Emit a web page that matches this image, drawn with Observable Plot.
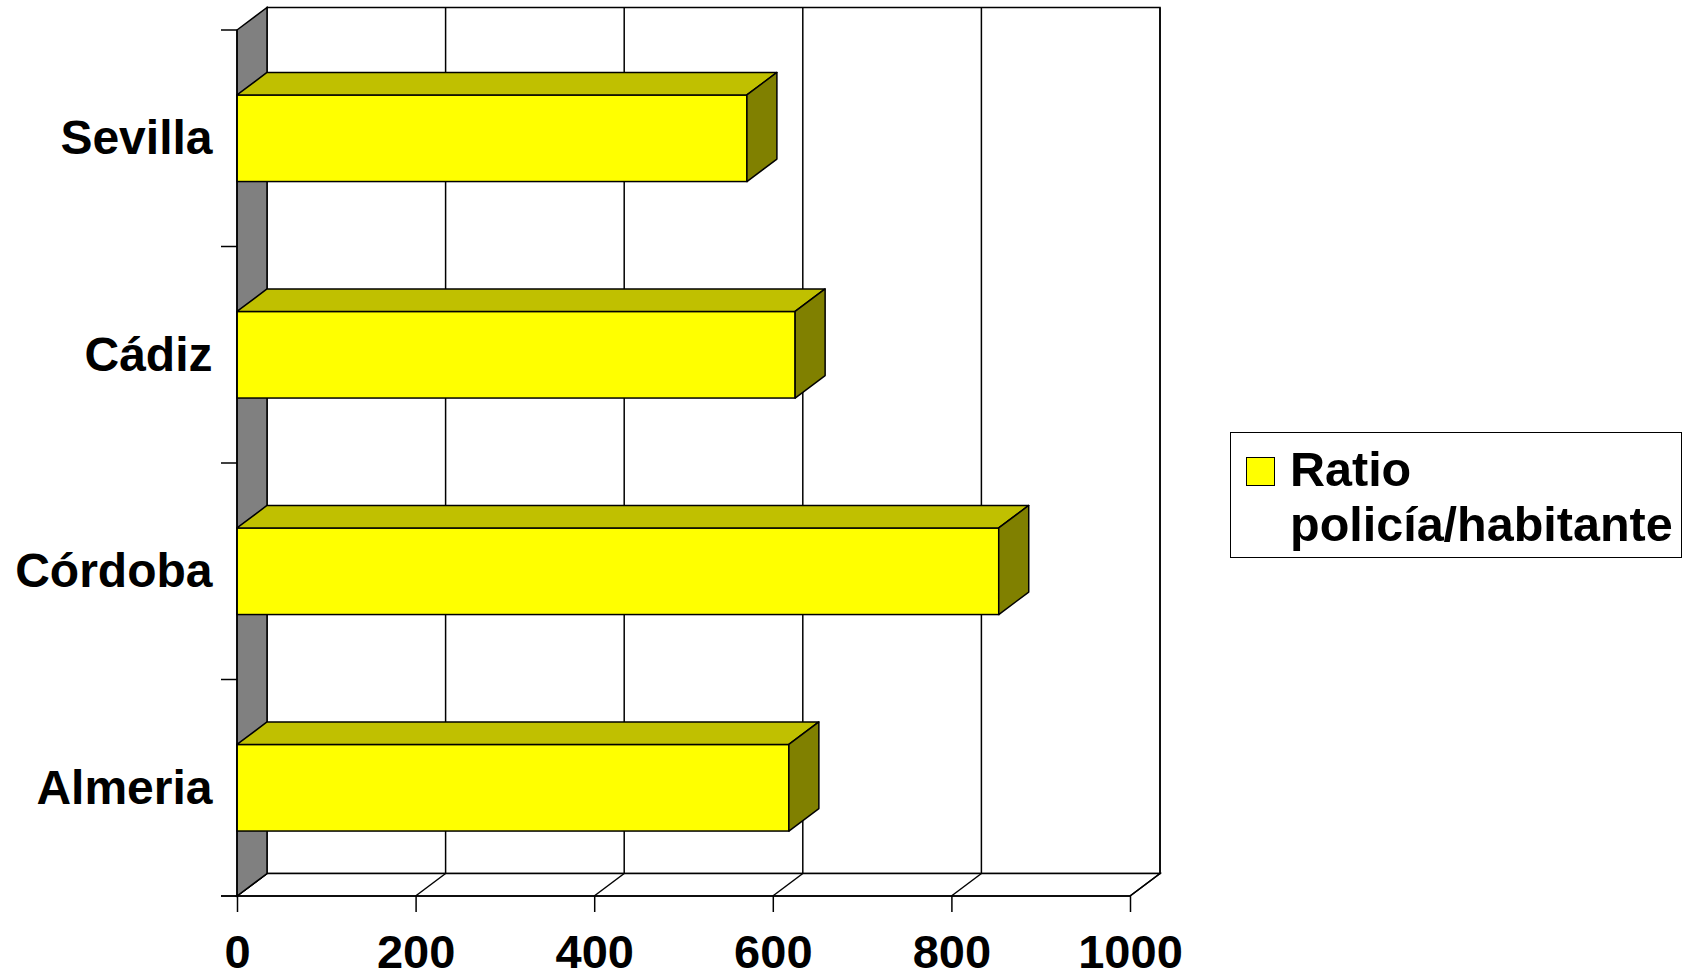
<!DOCTYPE html>
<html>
<head>
<meta charset="utf-8">
<script src="https://cdn.jsdelivr.net/npm/d3@7"></script>
<script src="https://cdn.jsdelivr.net/npm/@observablehq/plot@0.6"></script>
<style>
  html, body { margin: 0; padding: 0; background: #fff; }
  #wrap { position: relative; width: 1684px; height: 978px; font-family: "Liberation Sans", Arial, sans-serif; font-weight: bold; color: #000; }
  #wrap svg { position: absolute; left: 0; top: 0; overflow: visible; }
  .legend-box { position: absolute; left: 1230px; top: 432px; width: 452px; height: 126px; box-sizing: border-box; border: 1.5px solid #000; background: #fff; }
  .legend-swatch { position: absolute; left: 1246px; top: 457px; width: 29px; height: 29px; box-sizing: border-box; border: 1.5px solid #000; background: #ffff00; }
  .legend-text { position: absolute; left: 1290px; top: 442px; font-size: 48.5px; line-height: 55px; white-space: nowrap; }
</style>
</head>
<body>
<div id="wrap"></div>
<script>
// ---- data ----
const categories = ["Sevilla", "Cádiz", "Córdoba", "Almeria"];
const values = [571, 625, 853, 618];
const xTicks = [0, 200, 400, 600, 800, 1000];
const legendLines = ["Ratio", "policía/habitante"];

const data = categories.map((c, i) => ({provincia: c, ratio: values[i]}));

const DX = 30, DY = 22.5;
const COL = {front: "#ffff00", top: "#c0c000", side: "#808000", wall: "#808080"};
const SW = 1.5;

function frameY(dims) {
  return [dims.marginTop, dims.height - dims.marginBottom];
}

// back wall, floor and left wall (3D box)
function walls(index, scales, vals, dims) {
  const x = scales.x;
  const [yT, yB] = frameY(dims);
  const x0 = x(xTicks[0]), x1 = x(xTicks[xTicks.length - 1]);
  const g = d3.create("svg:g").attr("stroke", "black").attr("stroke-width", SW).attr("fill", "none");
  g.append("rect").attr("x", x0 + DX).attr("y", yT - DY).attr("width", x1 - x0).attr("height", yB - yT).attr("fill", "white");
  for (const t of xTicks.slice(1)) {
    g.append("line").attr("x1", x(t) + DX).attr("x2", x(t) + DX).attr("y1", yT - DY).attr("y2", yB - DY);
  }
  g.append("path").attr("fill", "white")
    .attr("d", `M${x0},${yB}L${x1},${yB}L${x1 + DX},${yB - DY}L${x0 + DX},${yB - DY}Z`);
  for (const t of xTicks) {
    g.append("line").attr("x1", x(t)).attr("y1", yB).attr("x2", x(t) + DX).attr("y2", yB - DY);
  }
  g.append("path").attr("fill", COL.wall)
    .attr("d", `M${x0},${yT}L${x0 + DX},${yT - DY}L${x0 + DX},${yB - DY}L${x0},${yB}Z`);
  return g.node();
}

// top and side faces of the bars
function barFaces(index, scales, vals, dims) {
  const x = scales.x, y = scales.y;
  const bw = y.bandwidth ? y.bandwidth() : 0;
  const g = d3.create("svg:g").attr("stroke", "black").attr("stroke-width", SW).attr("stroke-linejoin", "round");
  data.forEach(d => {
    const a = x(0), b = x(d.ratio), t = y(d.provincia), u = t + bw;
    g.append("path").attr("fill", COL.top)
      .attr("d", `M${a},${t}L${a + DX},${t - DY}L${b + DX},${t - DY}L${b},${t}Z`);
    g.append("path").attr("fill", COL.side)
      .attr("d", `M${b},${t}L${b + DX},${t - DY}L${b + DX},${u - DY}L${b},${u}Z`);
  });
  return g.node();
}

// front axis lines and category boundary ticks
function axisLines(index, scales, vals, dims) {
  const x = scales.x;
  const [yT, yB] = frameY(dims);
  const x0 = x(xTicks[0]), x1 = x(xTicks[xTicks.length - 1]);
  const n = categories.length;
  const g = d3.create("svg:g").attr("stroke", "black").attr("stroke-width", SW);
  g.append("line").attr("x1", x0 - 16).attr("x2", x1).attr("y1", yB).attr("y2", yB);
  g.append("line").attr("x1", x0).attr("x2", x0).attr("y1", yT).attr("y2", yB);
  for (let k = 0; k <= n; k++) {
    const yy = yT + k * (yB - yT) / n;
    g.append("line").attr("x1", x0 - 16).attr("x2", x0).attr("y1", yy).attr("y2", yy);
  }
  return g.node();
}

const font = "'Liberation Sans', Arial, sans-serif";

const chart = Plot.plot({
  width: 1684,
  height: 978,
  marginLeft: 237,
  marginRight: 554,
  marginTop: 30,
  marginBottom: 82,
  style: {fontFamily: font, background: "transparent", overflow: "visible"},
  x: {domain: [0, 1000], label: null},
  y: {type: "band", domain: categories, paddingInner: 0.6, paddingOuter: 0.3, round: false, label: null},
  marks: [
    walls,
    Plot.barX(data, {x: "ratio", y: "provincia", fill: COL.front, stroke: "black", strokeWidth: SW}),
    barFaces,
    axisLines,
    Plot.axisX(xTicks, {tickSize: 16, tickPadding: 22, tickFormat: d => String(d), fontSize: 47, fontWeight: "bold", fontFamily: font, strokeWidth: SW, label: null}),
    Plot.axisY({tickSize: 0, tickPadding: 25, fontSize: 48, fontWeight: "bold", fontFamily: font, label: null})
  ]
});

const wrap = document.getElementById("wrap");
wrap.appendChild(chart);

const box = document.createElement("div");
box.className = "legend-box";
wrap.appendChild(box);
const sw = document.createElement("div");
sw.className = "legend-swatch";
wrap.appendChild(sw);
const txt = document.createElement("div");
txt.className = "legend-text";
legendLines.forEach(l => {
  const d = document.createElement("div");
  d.textContent = l;
  txt.appendChild(d);
});
wrap.appendChild(txt);
</script>
</body>
</html>
